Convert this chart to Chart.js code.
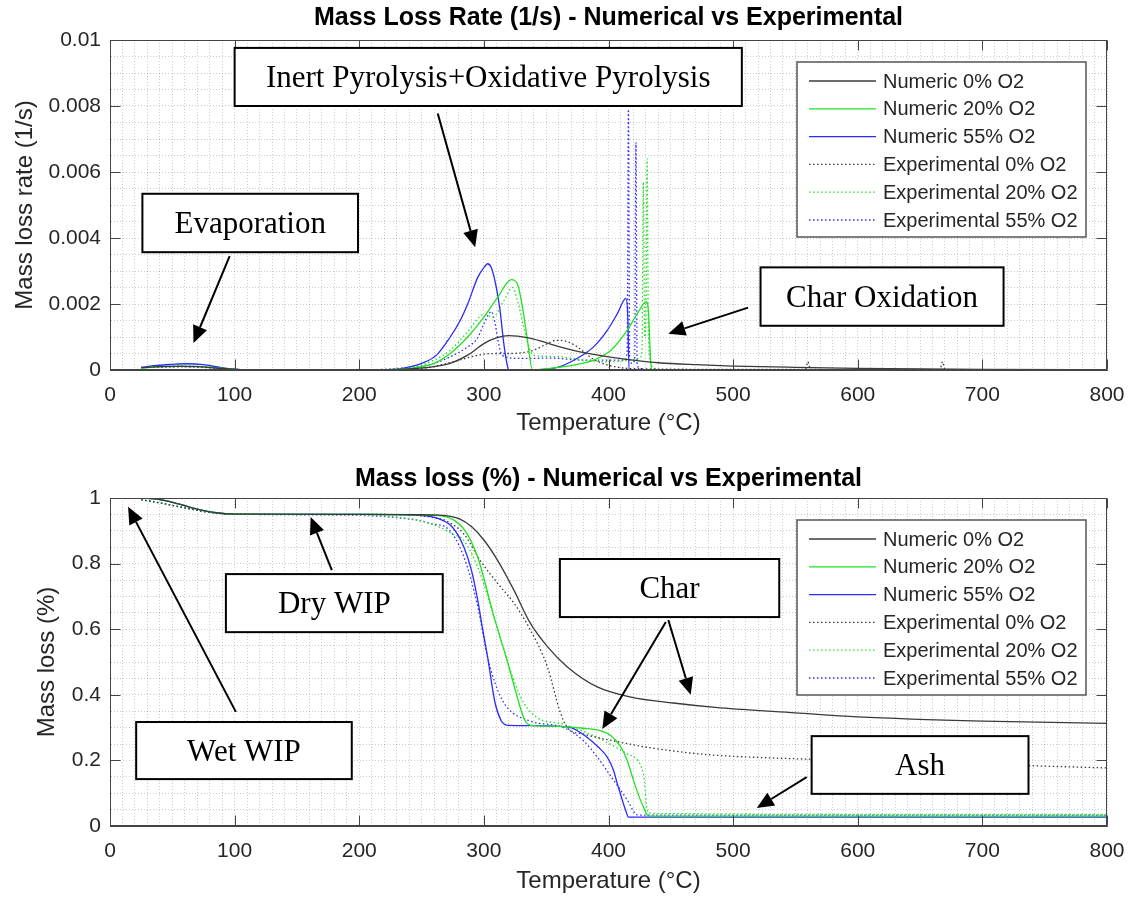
<!DOCTYPE html>
<html>
<head>
<meta charset="utf-8">
<script src="https://cdn.jsdelivr.net/npm/chart.js@4.4.0/dist/chart.umd.min.js"></script>
<style>
  body { margin: 0; background: #fff; overflow: hidden; }
  #wrap { position: relative; width: 1129px; height: 898px; }
  .panel { position: absolute; left: 0; width: 1129px; }
</style>
</head>
<body>
<div id="wrap">
  <div class="panel" style="top:0;height:448px"><canvas id="rateChart"></canvas></div>
  <div class="panel" style="top:448px;height:450px"><canvas id="massChart"></canvas></div>
</div>
<script>
// series labels
const seriesLabels = ['Numeric 0% O2', 'Numeric 20% O2', 'Numeric 55% O2',
  'Experimental 0% O2', 'Experimental 20% O2', 'Experimental 55% O2'];

// --- mass loss rate (1/s) ---
const tRateNum0 = [25, 40, 55, 70, 85, 100, 115, 200, 240, 260, 273, 287, 300, 310, 320, 335, 348, 361, 377, 400, 420, 440, 470, 500, 550, 600, 700, 800];
const rateNum0 = [0.00007, 0.0001, 0.00011, 0.0001, 0.00006, 0.00002, 0, 0, 0.00003, 0.0001, 0.0002, 0.00045, 0.0008, 0.00097, 0.00104, 0.00098, 0.00085, 0.0007, 0.00055, 0.0004, 0.0003, 0.00022, 0.00016, 0.00012, 0.00008, 0.00005, 0.00002, 0.00001];

const tRateNum20 = [25, 40, 55, 70, 85, 100, 115, 200, 240, 260, 273, 287, 300, 311, 322, 327, 331, 335, 339, 345, 360, 375, 388, 402, 415, 423, 430.5, 432, 433.5, 434.5, 800];
const rateNum20 = [0.00006, 0.0001, 0.00012, 0.00011, 0.00007, 0.00002, 0, 0, 0.00005, 0.0002, 0.0005, 0.001, 0.0016, 0.0022, 0.00274, 0.0026, 0.0019, 0.0009, 0, 0.00002, 0.00008, 0.00017, 0.0003, 0.0006, 0.0012, 0.0017, 0.00207, 0.0018, 0.0005, 0, 0];

const tRateNum55 = [25, 35, 50, 62, 75, 85, 95, 105, 115, 200, 230, 241, 250, 262, 273, 281, 287, 295, 300, 303, 306, 310, 313, 316, 319, 320, 345, 361, 377, 388, 399, 407, 414, 415.5, 416.5, 800];
const rateNum55 = [0.00008, 0.00013, 0.00017, 0.00019, 0.00016, 0.0001, 0.00004, 0.00001, 0, 0, 0.00002, 0.0001, 0.0002, 0.00045, 0.001, 0.0015, 0.002, 0.0028, 0.0031, 0.00322, 0.0031, 0.0025, 0.0018, 0.0008, 0.0001, 0, 0.00001, 0.0001, 0.0004, 0.0007, 0.0012, 0.0017, 0.00217, 0.0016, 0, 0];

const tRateExp0 = [25, 40, 60, 80, 100, 115, 200, 250, 265, 280, 290, 300, 310, 320, 330, 340, 350, 358, 365, 375, 385, 395, 405, 420, 500, 558, 560, 562, 600, 666, 668, 670, 800];
const rateExp0 = [0.00008, 0.00009, 0.0001, 0.00007, 0.00002, 0, 0, 0.00005, 0.00015, 0.0003, 0.0004, 0.00048, 0.0005, 0.0005, 0.00052, 0.0006, 0.00078, 0.0009, 0.00088, 0.0007, 0.0004, 0.0002, 0.0001, 0.00004, 0.00002, 0.00002, 0.00025, 0.00002, 0.00001, 0.00001, 0.00025, 0.00001, 0];

const tRateExp20 = [25, 40, 60, 80, 100, 115, 200, 240, 260, 273, 287, 300, 307, 316, 323, 327, 332, 336, 340, 360, 380, 400, 420, 426, 427, 428, 429, 430, 431, 432, 434, 437, 440, 800];
const rateExp20 = [0.00007, 0.00009, 0.0001, 0.00007, 0.00002, 0, 0, 0.00006, 0.0003, 0.0006, 0.00116, 0.00168, 0.0016, 0.0021, 0.0025, 0.0021, 0.0013, 0.0007, 0.00045, 0.0004, 0.0003, 0.00025, 0.0003, 0.0004, 0.0008, 0.0057, 0.001, 0.0015, 0.0064, 0.0012, 0.0002, 0.00005, 0, 0];

const tRateExp55 = [25, 40, 60, 80, 100, 115, 200, 240, 260, 273, 287, 295, 300, 306, 309, 313, 317, 330, 353, 380, 400, 413, 415, 416, 417, 419, 421, 422, 423, 425, 430, 800];
const rateExp55 = [0.00007, 0.0001, 0.00012, 0.00008, 0.00002, 0, 0, 0.00008, 0.0002, 0.0004, 0.0007, 0.00097, 0.0014, 0.00177, 0.0014, 0.0006, 0.0004, 0.00035, 0.00036, 0.0003, 0.0003, 0.0003, 0.0006, 0.0079, 0.0003, 0.0002, 0.0003, 0.0069, 0.0002, 0.00005, 0, 0];

// --- mass loss (fraction) ---
const tMassNum0 = [25, 40, 55, 70, 85, 100, 200, 250, 260, 270, 280, 290, 300, 311, 324, 337, 351, 367, 391, 418, 452, 490, 550, 600, 700, 800];
const massNum0 = [1.0, 0.995, 0.982, 0.966, 0.955, 0.951, 0.95, 0.949, 0.948, 0.946, 0.937, 0.913, 0.872, 0.81, 0.72, 0.62, 0.547, 0.485, 0.424, 0.393, 0.375, 0.36, 0.345, 0.333, 0.32, 0.313];

const tMassNum20 = [25, 40, 55, 70, 85, 100, 200, 250, 265, 275, 285, 295, 308, 319, 327, 332, 336, 340, 360, 380, 394, 402, 410, 415, 420, 425, 429, 431, 433, 800];
const massNum20 = [1.0, 0.995, 0.982, 0.966, 0.955, 0.951, 0.95, 0.949, 0.946, 0.935, 0.9, 0.82, 0.64, 0.5, 0.39, 0.33, 0.309, 0.306, 0.304, 0.298, 0.29, 0.275, 0.24, 0.2, 0.14, 0.085, 0.05, 0.034, 0.03, 0.03];

const tMassNum55 = [25, 40, 55, 70, 85, 100, 200, 245, 255, 265, 275, 284, 290, 295, 299, 303, 309, 314, 317, 320, 340, 360, 370, 383, 392, 399, 404, 407, 411, 414, 416, 800];
const massNum55 = [1.0, 0.995, 0.982, 0.966, 0.955, 0.951, 0.95, 0.948, 0.945, 0.935, 0.91, 0.85, 0.78, 0.69, 0.6, 0.515, 0.375, 0.32, 0.309, 0.307, 0.306, 0.304, 0.3, 0.27, 0.24, 0.21, 0.17, 0.13, 0.08, 0.045, 0.027, 0.027];

const tMassExp0 = [25, 40, 60, 80, 100, 200, 240, 260, 270, 284, 297, 311, 324, 337, 351, 361, 367, 380, 391, 410, 431, 460, 485, 550, 600, 700, 800];
const massExp0 = [0.995, 0.985, 0.97, 0.956, 0.951, 0.95, 0.948, 0.94, 0.93, 0.89, 0.81, 0.74, 0.68, 0.6, 0.485, 0.35, 0.3, 0.28, 0.27, 0.255, 0.24, 0.225, 0.216, 0.205, 0.2, 0.188, 0.177];

const tMassExp20 = [25, 40, 60, 80, 100, 200, 230, 250, 265, 275, 284, 297, 311, 324, 332, 343, 364, 391, 415, 428, 431, 433, 440, 800];
const massExp20 = [0.995, 0.985, 0.97, 0.956, 0.951, 0.948, 0.942, 0.93, 0.91, 0.89, 0.87, 0.77, 0.6, 0.445, 0.375, 0.33, 0.31, 0.27, 0.22, 0.16, 0.05, 0.04, 0.038, 0.035];

const tMassExp55 = [25, 40, 60, 80, 100, 200, 230, 250, 260, 270, 284, 295, 303, 311, 319, 337, 364, 380, 391, 404, 415, 423, 430, 800];
const massExp55 = [0.995, 0.985, 0.97, 0.956, 0.951, 0.947, 0.94, 0.93, 0.92, 0.91, 0.82, 0.67, 0.515, 0.415, 0.36, 0.32, 0.3, 0.26, 0.21, 0.14, 0.08, 0.034, 0.033, 0.033];

// text callouts (data units) and their arrows
const rateNotes = [
  { text: 'Inert Pyrolysis+Oxidative Pyrolysis', x0: 100, x1: 507, y0: 0.00976, y1: 0.008 },
  { text: 'Evaporation', x0: 26, x1: 199, y0: 0.00534, y1: 0.00357 },
  { text: 'Char Oxidation', x0: 522, x1: 717, y0: 0.00311, y1: 0.00134 }
];
const rateArrows = [[263, 0.00777, 293, 0.00372], [96, 0.00345, 67, 0.00082], [512, 0.00189, 448, 0.0011]];
const massNotes = [
  { text: 'Dry WIP', x0: 93, x1: 267, y0: 0.768, y1: 0.591 },
  { text: 'Wet WIP', x0: 21, x1: 194, y0: 0.317, y1: 0.143 },
  { text: 'Char', x0: 361, x1: 537, y0: 0.814, y1: 0.637 },
  { text: 'Ash', x0: 563, x1: 737, y0: 0.274, y1: 0.098 }
];
const massArrows = [[178, 0.78, 161, 0.942], [101, 0.348, 14.5, 0.973], [446, 0.622, 395, 0.296], [448, 0.628, 466, 0.4], [559, 0.149, 519, 0.055]];

const SANS = '"Liberation Sans", Arial, Helvetica, sans-serif';
const SERIF = '"Liberation Serif", "Times New Roman", serif';
const INK = '#262626';
const FRAME = '#444444';
const GRID = 'rgba(0,0,0,0.2)';
const colors = ['#3a3a3a', '#22e022', '#2b2bff'];

function buildDatasets(ts, vs) {
  return ts.map((t, i) => ({
    label: seriesLabels[i],
    data: t.map((x, j) => ({ x: x, y: vs[i][j] })),
    borderColor: colors[i % 3],
    borderWidth: 1.3,
    borderDash: i >= 3 ? [1.5, 2.5] : [],
    pointRadius: 0,
    cubicInterpolationMode: 'monotone',
    fill: false
  }));
}

function arrow(ctx, x0, y0, x1, y1) {
  const ang = Math.atan2(y1 - y0, x1 - x0);
  const L = 17, W = 7.5;
  const bx = x1 - L * Math.cos(ang), by = y1 - L * Math.sin(ang);
  ctx.beginPath();
  ctx.moveTo(x0, y0);
  ctx.lineTo(bx, by);
  ctx.stroke();
  ctx.beginPath();
  ctx.moveTo(x1, y1);
  ctx.lineTo(bx + W * Math.sin(ang), by - W * Math.cos(ang));
  ctx.lineTo(bx - W * Math.sin(ang), by + W * Math.cos(ang));
  ctx.closePath();
  ctx.fill();
}

const matlab = {
  id: 'matlab',
  afterDatasetsDraw(chart, args, o) {
    const { ctx, chartArea: a, scales: { x, y } } = chart;
    const L = Math.round(a.left) + 0.5, R = Math.round(a.right) - 0.5;
    const T = Math.round(a.top) + 0.5, B = Math.round(a.bottom) - 0.5;
    ctx.save();
    ctx.strokeStyle = FRAME;
    ctx.lineWidth = 1;
    ctx.strokeRect(L, T, R - L, B - T);
    ctx.beginPath();
    x.ticks.forEach(t => {
      if (t.value % 100 !== 0) return;
      const px = Math.round(x.getPixelForValue(t.value)) + 0.5;
      ctx.moveTo(px, B); ctx.lineTo(px, B - 10);
      ctx.moveTo(px, T); ctx.lineTo(px, T + 10);
    });
    y.ticks.forEach(t => {
      const k = t.value / o.yMajor;
      if (Math.abs(k - Math.round(k)) > 1e-6) return;
      const py = Math.round(y.getPixelForValue(t.value)) + 0.5;
      ctx.moveTo(L, py); ctx.lineTo(L + 10, py);
      ctx.moveTo(R, py); ctx.lineTo(R - 10, py);
    });
    ctx.stroke();
    ctx.restore();
  },
  afterDraw(chart, args, o) {
    const { ctx, chartArea: a, scales: { x, y } } = chart;
    ctx.save();
    // title
    ctx.fillStyle = '#000';
    ctx.font = 'bold 25px ' + SANS;
    ctx.textAlign = 'center';
    ctx.textBaseline = 'middle';
    ctx.fillText(o.title, (a.left + a.right) / 2, o.titleY);

    // legend
    const lx = a.right - 310, ly = a.top + 22, lw = 289, lh = 175;
    ctx.fillStyle = '#fff';
    ctx.fillRect(lx, ly, lw, lh);
    ctx.strokeStyle = '#555';
    ctx.lineWidth = 1.5;
    ctx.strokeRect(lx, ly, lw, lh);
    ctx.font = '20px ' + SANS;
    ctx.textAlign = 'left';
    chart.data.datasets.forEach((ds, i) => {
      const ry = ly + 19 + i * 27.8;
      ctx.strokeStyle = ds.borderColor;
      ctx.lineWidth = 1.3;
      ctx.setLineDash(ds.borderDash);
      ctx.beginPath();
      ctx.moveTo(lx + 12, ry);
      ctx.lineTo(lx + 79, ry);
      ctx.stroke();
      ctx.setLineDash([]);
      ctx.fillStyle = INK;
      ctx.fillText(ds.label, lx + 86, ry + 1);
    });

    // callouts
    ctx.lineWidth = 2;
    ctx.strokeStyle = '#000';
    ctx.fillStyle = '#000';
    o.arrows.forEach(p => arrow(ctx, x.getPixelForValue(p[0]), y.getPixelForValue(p[1]),
      x.getPixelForValue(p[2]), y.getPixelForValue(p[3])));
    ctx.font = '31px ' + SERIF;
    ctx.textAlign = 'center';
    o.notes.forEach(n => {
      const x0 = x.getPixelForValue(n.x0), x1 = x.getPixelForValue(n.x1);
      const y0 = y.getPixelForValue(n.y0), y1 = y.getPixelForValue(n.y1);
      ctx.fillStyle = '#fff';
      ctx.fillRect(x0, y0, x1 - x0, y1 - y0);
      ctx.strokeStyle = '#000';
      ctx.strokeRect(x0, y0, x1 - x0, y1 - y0);
      ctx.fillStyle = '#000';
      ctx.fillText(n.text, (x0 + x1) / 2, (y0 + y1) / 2 + 2);
    });
    ctx.restore();
  }
};

function makeChart(id, o) {
  const isMajor = v => { const k = v / o.yMajor; return Math.abs(k - Math.round(k)) < 1e-6; };
  return new Chart(document.getElementById(id), {
    type: 'line',
    data: { datasets: buildDatasets(o.ts, o.vs) },
    options: {
      responsive: true,
      maintainAspectRatio: false,
      animation: false,
      layout: { padding: { top: o.padTop, right: 22, left: 0, bottom: 0 } },
      plugins: {
        legend: { display: false },
        tooltip: { enabled: false },
        matlab: { title: o.title, titleY: o.titleY, yMajor: o.yMajor, notes: o.notes, arrows: o.arrows }
      },
      scales: {
        x: {
          type: 'linear', min: 0, max: 800,
          afterFit: s => { s.height = o.xHeight; s.paddingLeft = 0; s.paddingRight = 0; },
          ticks: {
            stepSize: 10, autoSkip: false, maxRotation: 0, padding: 13, color: INK,
            font: { family: SANS, size: 21 },
            callback: v => (v % 100 === 0 ? v : '')
          },
          grid: { color: GRID, drawTicks: false },
          border: { color: FRAME, dash: [1, 2] },
          title: {
            display: true, text: 'Temperature (°C)', color: INK,
            font: { family: SANS, size: 24 }, padding: { top: 0, bottom: o.xTitlePad }
          }
        },
        y: {
          min: 0, max: o.yMax,
          afterFit: s => { s.width = 110; s.paddingTop = 0; s.paddingBottom = 0; },
          ticks: {
            stepSize: o.yMajor / 4, autoSkip: false, padding: 9, color: INK,
            font: { family: SANS, size: 21 },
            callback: v => (isMajor(v) ? String(+v.toFixed(4)) : '')
          },
          grid: { color: GRID, drawTicks: false },
          border: { color: FRAME, dash: [1, 2] },
          title: {
            display: true, text: o.yTitle, color: INK,
            font: { family: SANS, size: 24 }, padding: { top: o.yTitlePad, bottom: 0 }
          }
        }
      }
    },
    plugins: [matlab]
  });
}

makeChart('rateChart', {
  ts: [tRateNum0, tRateNum20, tRateNum55, tRateExp0, tRateExp20, tRateExp55],
  vs: [rateNum0, rateNum20, rateNum55, rateExp0, rateExp20, rateExp55],
  title: 'Mass Loss Rate (1/s) - Numerical vs Experimental', titleY: 18,
  yTitle: 'Mass loss rate (1/s)', yMax: 0.01, yMajor: 0.002,
  padTop: 40, xHeight: 78, xTitlePad: 10, yTitlePad: 11,
  notes: rateNotes, arrows: rateArrows
});

makeChart('massChart', {
  ts: [tMassNum0, tMassNum20, tMassNum55, tMassExp0, tMassExp20, tMassExp55],
  vs: [massNum0, massNum20, massNum55, massExp0, massExp20, massExp55],
  title: 'Mass loss (%) - Numerical vs Experimental', titleY: 31,
  yTitle: 'Mass loss (%)', yMax: 1, yMajor: 0.2,
  padTop: 50, xHeight: 72, xTitlePad: 2, yTitlePad: 33,
  notes: massNotes, arrows: massArrows
});
</script>
</body>
</html>
